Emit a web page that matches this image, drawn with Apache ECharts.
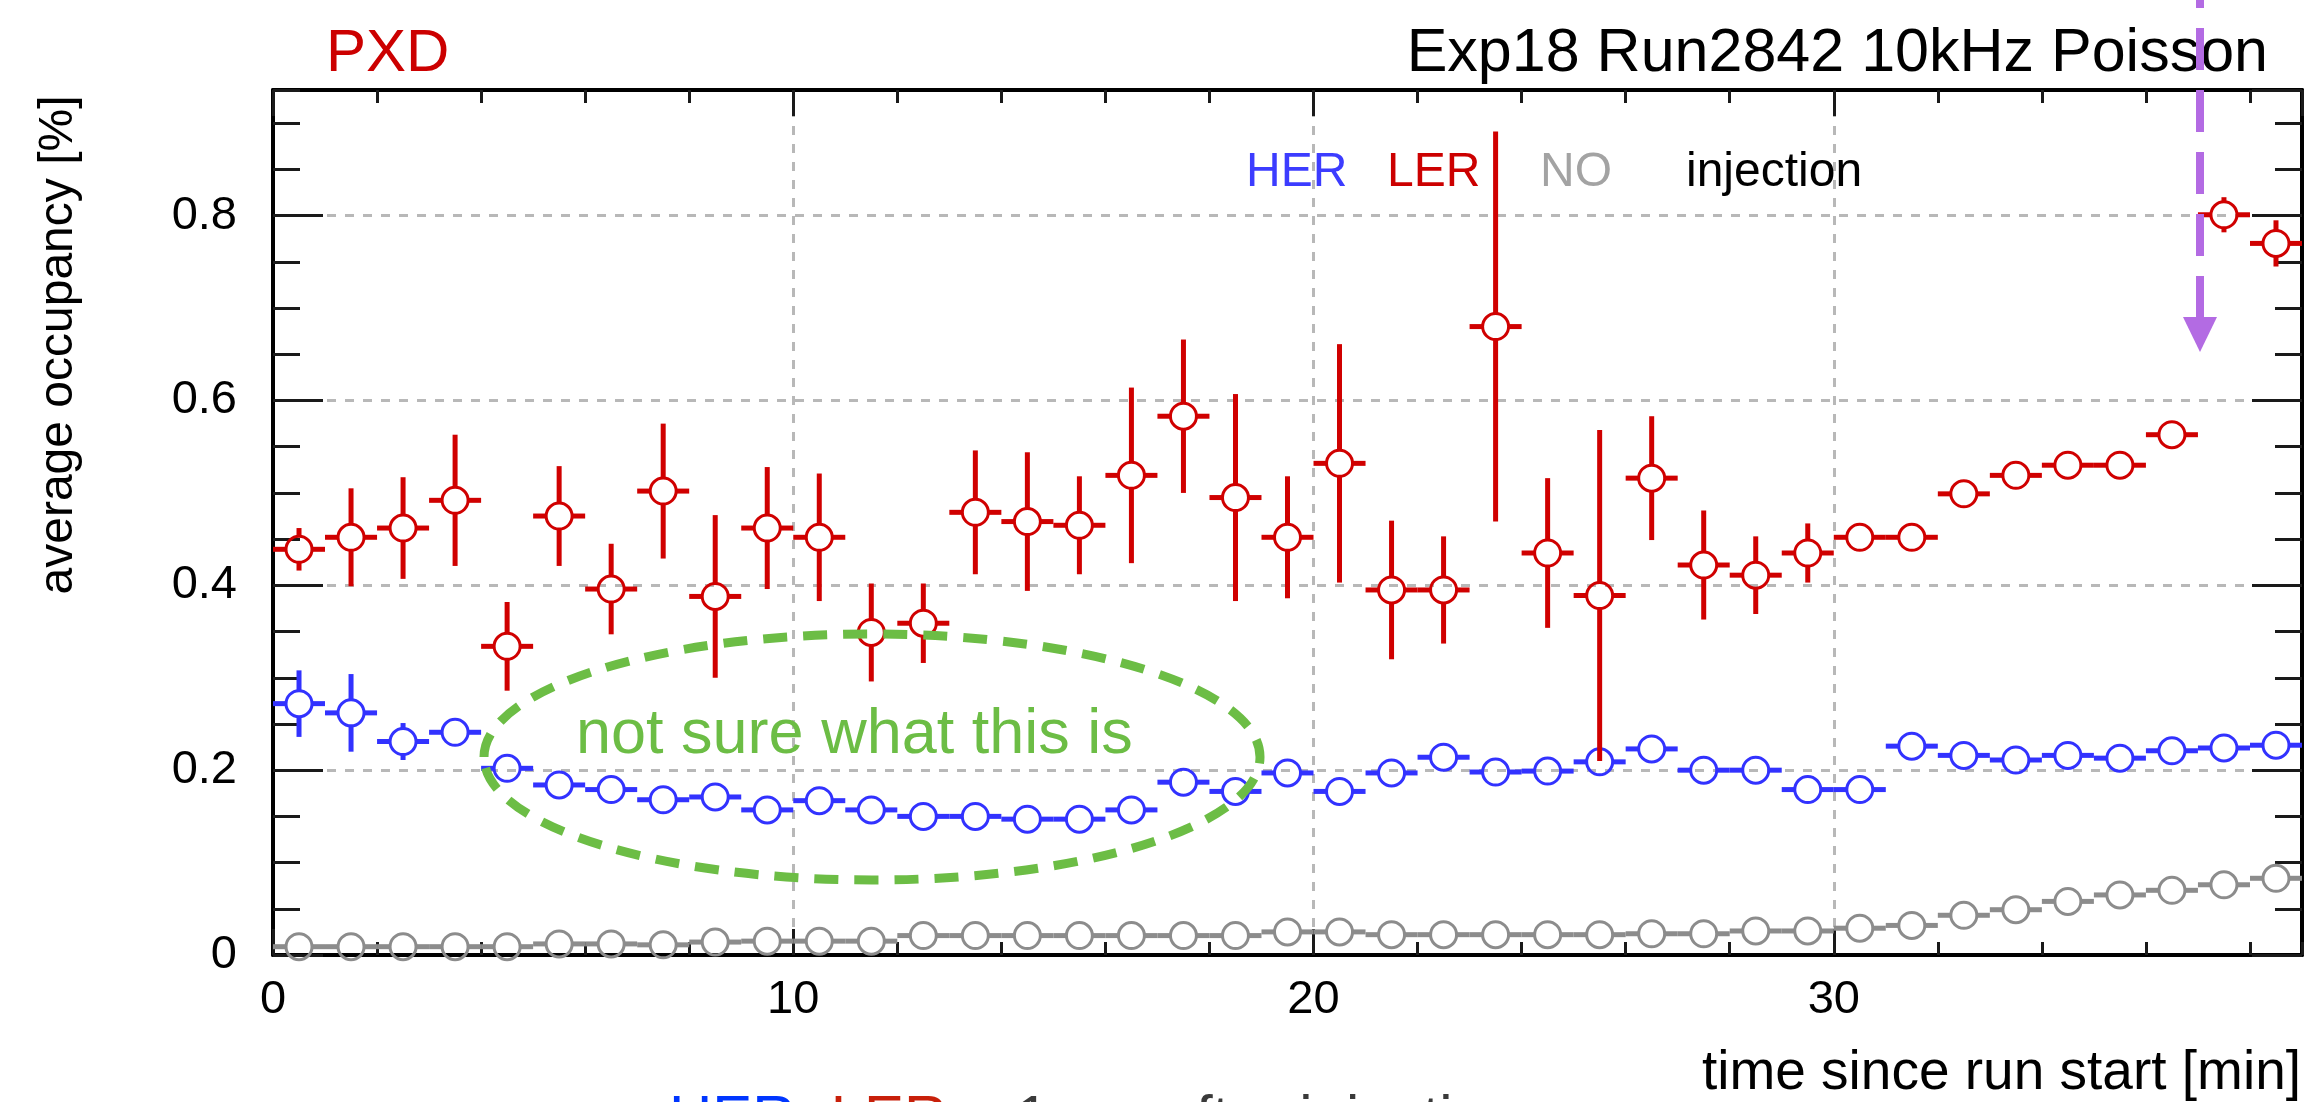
<!DOCTYPE html>
<html>
<head>
<meta charset="utf-8">
<script src="https://cdn.jsdelivr.net/npm/echarts@6/dist/echarts.min.js"></script>
<style>
  html, body { margin: 0; padding: 0; background: #ffffff; }
  #chart { width: 2304px; height: 1102px; }
</style>
</head>
<body>
<div id="chart"></div>
<script>
// Time bins (minutes since run start), 1-minute wide
const binCenters = [0.5, 1.5, 2.5, 3.5, 4.5, 5.5, 6.5, 7.5, 8.5, 9.5,
  10.5, 11.5, 12.5, 13.5, 14.5, 15.5, 16.5, 17.5, 18.5, 19.5,
  20.5, 21.5, 22.5, 23.5, 24.5, 25.5, 26.5, 27.5, 28.5, 29.5,
  30.5, 31.5, 32.5, 33.5, 34.5, 35.5, 36.5, 37.5, 38.5];
const binWidth = 1;

// Average PXD occupancy [%] shortly after HER injection
const herOcc = [0.272, 0.262, 0.231, 0.241, 0.202, 0.184, 0.179, 0.168, 0.171, 0.157,
  0.167, 0.157, 0.150, 0.150, 0.147, 0.147, 0.157, 0.187, 0.177, 0.197,
  0.177, 0.197, 0.214, 0.198, 0.199, 0.209, 0.223, 0.200, 0.200, 0.179,
  0.179, 0.226, 0.216, 0.211, 0.216, 0.213, 0.221, 0.224, 0.227];
const herErr = [0.036, 0.042, 0.020, 0.010, 0.010, 0.008, 0.008, 0.008, 0.008, 0.008,
  0.008, 0.008, 0.008, 0.008, 0.008, 0.008, 0.008, 0.008, 0.008, 0.008,
  0.008, 0.008, 0.008, 0.008, 0.008, 0.008, 0.008, 0.008, 0.008, 0.008,
  0.008, 0.008, 0.008, 0.008, 0.008, 0.008, 0.008, 0.008, 0.008];

// Average PXD occupancy [%] shortly after LER injection
const lerOcc = [0.439, 0.452, 0.462, 0.492, 0.334, 0.475, 0.396, 0.502, 0.388, 0.462,
  0.452, 0.349, 0.359, 0.479, 0.469, 0.465, 0.519, 0.583, 0.495, 0.452,
  0.532, 0.395, 0.395, 0.680, 0.435, 0.389, 0.516, 0.422, 0.411, 0.435,
  0.452, 0.452, 0.499, 0.519, 0.530, 0.530, 0.563, 0.801, 0.770];
const lerErr = [0.023, 0.053, 0.055, 0.071, 0.048, 0.054, 0.049, 0.073, 0.088, 0.066,
  0.069, 0.053, 0.043, 0.067, 0.075, 0.053, 0.095, 0.083, 0.112, 0.066,
  0.129, 0.075, 0.058, 0.211, 0.081, 0.179, 0.067, 0.059, 0.042, 0.032,
  0.010, 0.010, 0.010, 0.010, 0.010, 0.010, 0.010, 0.019, 0.025];

// Average PXD occupancy [%] without injection
const noOcc = [0.009, 0.009, 0.009, 0.009, 0.009, 0.012, 0.012, 0.011, 0.014, 0.015,
  0.015, 0.015, 0.021, 0.021, 0.021, 0.021, 0.021, 0.021, 0.021, 0.025,
  0.025, 0.022, 0.022, 0.022, 0.022, 0.022, 0.023, 0.023, 0.026, 0.026,
  0.029, 0.032, 0.043, 0.049, 0.058, 0.065, 0.070, 0.076, 0.083];
const noErr = [0.002, 0.002, 0.002, 0.002, 0.002, 0.002, 0.002, 0.002, 0.002, 0.002,
  0.002, 0.002, 0.002, 0.002, 0.002, 0.002, 0.002, 0.002, 0.002, 0.002,
  0.002, 0.002, 0.002, 0.002, 0.002, 0.002, 0.002, 0.002, 0.002, 0.002,
  0.002, 0.002, 0.002, 0.002, 0.002, 0.002, 0.002, 0.002, 0.002];

// Axis ranges and tick spacing
const xRange = [0, 39];
const yRange = [0, 0.936];
const xMajor = 10, xMinor = 2;
const yMajor = 0.2, yMinor = 0.05;

const FONT = '"Liberation Sans", Arial, Helvetica, sans-serif';
const C_HER = '#3232ff';
const C_LER = '#d00000';
const C_NO = '#8c8c8c';

function toPoints(occ, err) {
  return binCenters.map((x, i) => [x, occ[i], err[i]]);
}

// ROOT-style open circle marker with x (bin width) and y error bars,
// bars are only drawn outside the marker
function errorMarker(color, r, barWidth) {
  return function (params, api) {
    const x = api.value(0), y = api.value(1), e = api.value(2);
    const c = api.coord([x, y]);
    const l = api.coord([x - binWidth / 2, y]);
    const rr = api.coord([x + binWidth / 2, y]);
    const top = api.coord([x, y + e]);
    const bot = api.coord([x, y - e]);
    const ls = { stroke: color, lineWidth: barWidth };
    const kids = [];
    if (c[0] - r > l[0]) kids.push({ type: 'line', shape: { x1: l[0], y1: c[1], x2: c[0] - r, y2: c[1] }, style: ls });
    if (rr[0] > c[0] + r) kids.push({ type: 'line', shape: { x1: c[0] + r, y1: c[1], x2: rr[0], y2: c[1] }, style: ls });
    if (top[1] < c[1] - r) kids.push({ type: 'line', shape: { x1: c[0], y1: top[1], x2: c[0], y2: c[1] - r }, style: ls });
    if (bot[1] > c[1] + r) kids.push({ type: 'line', shape: { x1: c[0], y1: c[1] + r, x2: c[0], y2: bot[1] }, style: ls });
    kids.push({ type: 'circle', shape: { cx: c[0], cy: c[1], r: r }, style: { fill: 'none', stroke: color, lineWidth: 3 } });
    return { type: 'group', children: kids };
  };
}

const tickStyle = { color: '#1a1a1a', width: 3 };
const frameStyle = { color: '#000000', width: 4 };
const gridDash = { type: [9, 9], color: '#b8b8b8', width: 3 };

function xAxisDef(position, interval, tickLen, major, labels) {
  return {
    type: 'value', position: position, min: xRange[0], max: xRange[1], interval: interval,
    axisLine: { show: major, onZero: false, lineStyle: frameStyle },
    axisTick: { show: true, inside: true, length: tickLen, lineStyle: tickStyle },
    axisLabel: labels ? {
      show: true, margin: 22, fontSize: 47, color: '#000', fontFamily: FONT,
      showMaxLabel: false
    } : { show: false },
    splitLine: labels ? { show: true, showMinLine: false, showMaxLine: false, lineStyle: gridDash } : { show: false }
  };
}

function yAxisDef(position, interval, tickLen, major, labels) {
  return {
    type: 'value', position: position, min: yRange[0], max: yRange[1], interval: interval,
    axisLine: { show: major, onZero: false, lineStyle: frameStyle },
    axisTick: { show: true, inside: true, length: tickLen, lineStyle: tickStyle },
    axisLabel: labels ? {
      show: true, margin: 36, fontSize: 47, color: '#000', fontFamily: FONT,
      showMaxLabel: false,
      formatter: v => (v === 0 ? '0' : v.toFixed(1))
    } : { show: false },
    splitLine: labels ? { show: true, showMinLine: false, showMaxLine: false, lineStyle: gridDash } : { show: false }
  };
}

const chart = echarts.init(document.getElementById('chart'), null, { renderer: 'canvas' });

chart.setOption({
  animation: false,
  backgroundColor: '#ffffff',
  grid: { left: 273, right: 2, top: 90, bottom: 147, containLabel: false },
  xAxis: [
    xAxisDef('bottom', xMajor, 26, true, true),
    xAxisDef('bottom', xMinor, 13, false, false),
    xAxisDef('top', xMajor, 26, true, false),
    xAxisDef('top', xMinor, 13, false, false)
  ],
  yAxis: [
    yAxisDef('left', yMajor, 50, true, true),
    yAxisDef('left', yMinor, 27, false, false),
    yAxisDef('right', yMajor, 50, true, false),
    yAxisDef('right', yMinor, 27, false, false)
  ],
  series: [
    { name: 'NO', type: 'custom', xAxisIndex: 0, yAxisIndex: 0, z: 3, clip: false,
      encode: { x: 0, y: 1 }, data: toPoints(noOcc, noErr), renderItem: errorMarker(C_NO, 13, 5) },
    { name: 'HER', type: 'custom', xAxisIndex: 0, yAxisIndex: 0, z: 4, clip: false,
      encode: { x: 0, y: 1 }, data: toPoints(herOcc, herErr), renderItem: errorMarker(C_HER, 13, 5) },
    { name: 'LER', type: 'custom', xAxisIndex: 0, yAxisIndex: 0, z: 5, clip: false,
      encode: { x: 0, y: 1 }, data: toPoints(lerOcc, lerErr), renderItem: errorMarker(C_LER, 13, 5) }
  ],
  graphic: [
    // detector label and run description
    { type: 'text', z: 20, style: { text: 'PXD', x: 326, y: 54, verticalAlign: 'middle',
        font: '60px ' + FONT, fill: '#cc0000' } },
    { type: 'text', z: 20, style: { text: 'Exp18 Run2842 10kHz Poisson', x: 2268, y: 54, align: 'right',
        verticalAlign: 'middle', font: '61px ' + FONT, fill: '#000000' } },
    // in-frame key
    { type: 'text', z: 20, style: { text: 'HER', x: 1246, y: 173, verticalAlign: 'middle', font: '48px ' + FONT, fill: '#3c3cff' } },
    { type: 'text', z: 20, style: { text: 'LER', x: 1387, y: 173, verticalAlign: 'middle', font: '48px ' + FONT, fill: '#cc0000' } },
    { type: 'text', z: 20, style: { text: 'NO', x: 1540, y: 173, verticalAlign: 'middle', font: '48px ' + FONT, fill: '#a3a3a3' } },
    { type: 'text', z: 20, style: { text: 'injection', x: 1686, y: 173, verticalAlign: 'middle', font: '48px ' + FONT, fill: '#000000' } },
    // axis titles
    { type: 'text', z: 20, x: 59, y: 345, rotation: Math.PI / 2,
      style: { text: 'average occupancy [%]', x: 0, y: 0, align: 'center', verticalAlign: 'middle',
        font: '48px ' + FONT, fill: '#000000' } },
    { type: 'text', z: 20, style: { text: 'time since run start [min]', x: 2301, y: 1074, align: 'right',
        verticalAlign: 'middle', font: '55px ' + FONT, fill: '#000000' } },
    // hand-drawn remark around the HER dip
    { type: 'ellipse', z: 30, shape: { cx: 872, cy: 757, rx: 388, ry: 123 },
      style: { fill: 'none', stroke: '#6cbd45', lineWidth: 9, lineDash: [24, 16] } },
    { type: 'text', z: 30, style: { text: 'not sure what this is', x: 576, y: 736, verticalAlign: 'middle',
        font: '63px ' + FONT, fill: '#6cbd45' } },
    // pointer to the last bins
    { type: 'line', z: 30, shape: { x1: 2200, y1: -34, x2: 2200, y2: 320 },
      style: { stroke: '#b36be3', lineWidth: 8, lineDash: [42, 20] } },
    { type: 'polygon', z: 30, shape: { points: [[2183, 317], [2217, 317], [2200, 352]] },
      style: { fill: '#b36be3' } },
    // caption running off the bottom edge
    { type: 'text', z: 30, style: {
        text: '{b|HER}{g|+}{r|LER}{k| ~ 1 ms after injection}', x: 669, y: 1120, verticalAlign: 'middle',
        rich: {
          b: { fill: '#0036ff', font: '60px ' + FONT },
          g: { fill: '#8a8a8a', font: '60px ' + FONT },
          r: { fill: '#c8200a', font: '60px ' + FONT },
          k: { fill: '#3a3a3a', font: '60px ' + FONT }
        } } }
  ]
});
</script>
</body>
</html>
